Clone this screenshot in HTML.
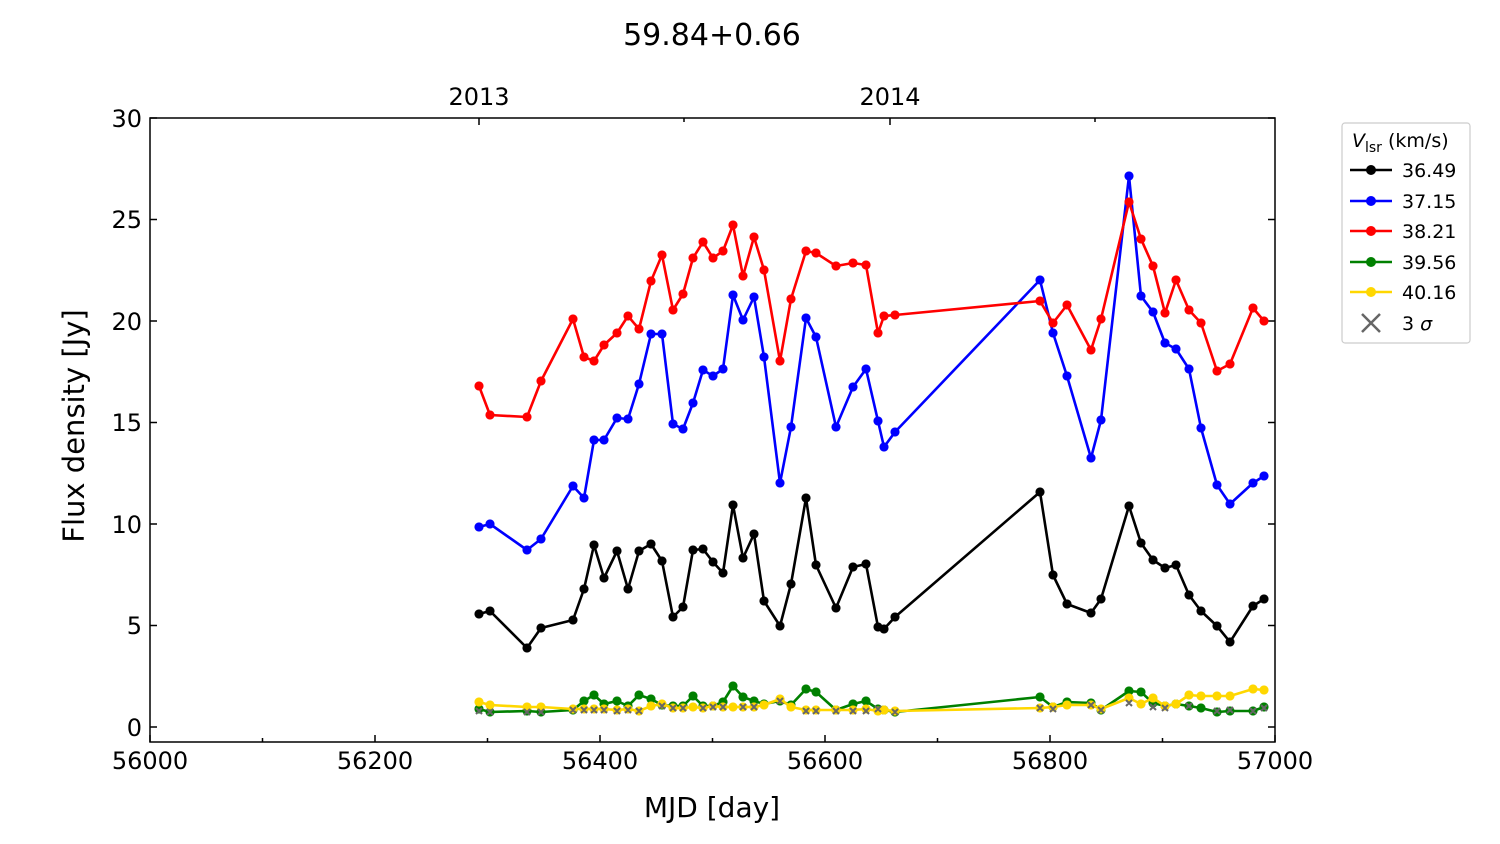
<!DOCTYPE html>
<html><head><meta charset="utf-8"><style>body{margin:0;background:#fff}svg{display:block}</style></head><body>
<svg width="1500" height="844" xmlns="http://www.w3.org/2000/svg" font-family="DejaVu Sans, Liberation Sans, sans-serif">
<rect width="1500" height="844" fill="#fff"/>
<text x="712" y="45" font-size="30" text-anchor="middle">59.84+0.66</text>
<g stroke="#000" stroke-width="1.5">
<path d="M150,727v-7M375,727v-7M600,727v-7M825,727v-7M1050,727v-7M1275,727v-7" transform="translate(0,15)"/>
<path d="M262.5,742v-4M487.5,742v-4M712.5,742v-4M937.5,742v-4M1162.5,742v-4"/>
<path d="M150,727h7M150,625.5h7M150,524h7M150,422.5h7M150,321h7M150,219.5h7M150,118h7"/>
<path d="M1275,727h-7M1275,625.5h-7M1275,524h-7M1275,422.5h-7M1275,321h-7M1275,219.5h-7M1275,118h-7"/>
<path d="M479,118v7M890,118v7M684,118v4M1095,118v4"/>
</g>
<g font-size="24" text-anchor="middle">
<text x="150" y="769">56000</text><text x="375" y="769">56200</text><text x="600" y="769">56400</text><text x="825" y="769">56600</text><text x="1050" y="769">56800</text><text x="1275" y="769">57000</text>
<text x="479" y="105">2013</text><text x="890" y="105">2014</text>
</g>
<g font-size="24" text-anchor="end">
<text x="142" y="736">0</text><text x="142" y="634">5</text><text x="142" y="533">10</text><text x="142" y="431">15</text><text x="142" y="330">20</text><text x="142" y="228">25</text><text x="142" y="127">30</text>
</g>
<text x="712" y="817" font-size="28" text-anchor="middle">MJD [day]</text>
<text transform="translate(84,426) rotate(-90)" font-size="29" text-anchor="middle">Flux density [Jy]</text>
<defs>
<marker id="mb" viewBox="0 0 10 10" refX="5" refY="5" markerWidth="3.5" markerHeight="3.5"><circle cx="5" cy="5" r="5" fill="#000"/></marker>
<marker id="mu" viewBox="0 0 10 10" refX="5" refY="5" markerWidth="3.5" markerHeight="3.5"><circle cx="5" cy="5" r="5" fill="#00f"/></marker>
<marker id="mr" viewBox="0 0 10 10" refX="5" refY="5" markerWidth="3.5" markerHeight="3.5"><circle cx="5" cy="5" r="5" fill="#f00"/></marker>
<marker id="mg" viewBox="0 0 10 10" refX="5" refY="5" markerWidth="3.5" markerHeight="3.5"><circle cx="5" cy="5" r="5" fill="#008000"/></marker>
<marker id="my" viewBox="0 0 10 10" refX="5" refY="5" markerWidth="3.5" markerHeight="3.5"><circle cx="5" cy="5" r="5" fill="#ffd700"/></marker>
</defs>
<g fill="none" stroke-width="2.6" stroke-linejoin="round">
<polyline stroke="#008000" marker-start="url(#mg)" marker-mid="url(#mg)" marker-end="url(#mg)" points="479,709 490,712 527,711 541,712 573,710 584,701 594,695 604,704 617,701 628,706 639,695 651,699 662,705 673,706 683,706 693,696 703,706 713,706 723,702 733,686 743,697 754,701 764,704 780,701 791,705 806,689 816,692 836,710 853,704 866,701 878,709 884,710 895,712 1040,697 1053,707 1067,702 1091,703 1101,710 1129,691 1141,692 1153,703 1165,706 1176,704 1189,706 1201,708 1217,712 1230,711 1253,711 1264,707"/>
<polyline stroke="#ffd700" marker-start="url(#my)" marker-mid="url(#my)" marker-end="url(#my)" points="479,702 490,705 527,707 541,707 573,709 584,709 594,709 604,709 617,710 628,709 639,711 651,706 662,704 673,708 683,708 693,707 703,708 713,706 723,707 733,707 743,707 754,707 764,705 780,699 791,707 806,710 816,710 836,710 853,710 866,709 878,711 884,710 895,711 1040,708 1053,707 1067,705 1091,705 1101,709 1129,698 1141,704 1153,698 1165,706 1176,704 1189,695 1201,696 1217,696 1230,696 1253,689 1264,690"/>
<polyline stroke="#000" marker-start="url(#mb)" marker-mid="url(#mb)" marker-end="url(#mb)" points="479,614 490,611 527,648 541,628 573,620 584,589 594,545 604,578 617,551 628,589 639,551 651,544 662,561 673,617 683,607 693,550 703,549 713,562 723,573 733,505 743,558 754,534 764,601 780,626 791,584 806,498 816,565 836,608 853,567 866,564 878,627 884,629 895,617 1040,492 1053,575 1067,604 1091,613 1101,599 1129,506 1141,543 1153,560 1165,568 1176,565 1189,595 1201,611 1217,626 1230,642 1253,606 1264,599"/>
<polyline stroke="#00f" marker-start="url(#mu)" marker-mid="url(#mu)" marker-end="url(#mu)" points="479,527 490,524 527,550 541,539 573,486 584,498 594,440 604,440 617,418 628,419 639,384 651,334 662,334 673,424 683,429 693,403 703,370 713,376 723,369 733,295 743,320 754,297 764,357 780,483 791,427 806,318 816,337 836,427 853,387 866,369 878,421 884,447 895,432 1040,280 1053,333 1067,376 1091,458 1101,420 1129,176 1141,296 1153,312 1165,343 1176,349 1189,369 1201,428 1217,485 1230,504 1253,483 1264,476"/>
<polyline stroke="#f00" marker-start="url(#mr)" marker-mid="url(#mr)" marker-end="url(#mr)" points="479,386 490,415 527,417 541,381 573,319 584,357 594,361 604,345 617,333 628,316 639,329 651,281 662,255 673,310 683,294 693,258 703,242 713,258 723,251 733,225 743,276 754,237 764,270 780,361 791,299 806,251 816,253 836,266 853,263 866,265 878,333 884,316 895,315 1040,301 1053,323 1067,305 1091,350 1101,319 1129,202 1141,239 1153,266 1165,313 1176,280 1189,310 1201,323 1217,371 1230,364 1253,308 1264,321"/>
</g>
<g stroke="#666" stroke-width="2">
<path d="M476,708l6,6M482,708l-6,6M487,709l6,6M493,709l-6,6M524,709l6,6M530,709l-6,6M538,709l6,6M544,709l-6,6M570,707l6,6M576,707l-6,6M581,707l6,6M587,707l-6,6M591,707l6,6M597,707l-6,6M601,707l6,6M607,707l-6,6M614,708l6,6M620,708l-6,6M625,707l6,6M631,707l-6,6M636,708l6,6M642,708l-6,6M659,703l6,6M665,703l-6,6M670,705l6,6M676,705l-6,6M680,705l6,6M686,705l-6,6M700,705l6,6M706,705l-6,6M710,704l6,6M716,704l-6,6M720,704l6,6M726,704l-6,6M740,704l6,6M746,704l-6,6M751,704l6,6M757,704l-6,6M777,698l6,6M783,698l-6,6M803,708l6,6M809,708l-6,6M813,708l6,6M819,708l-6,6M833,708l6,6M839,708l-6,6M850,708l6,6M856,708l-6,6M863,708l6,6M869,708l-6,6M875,706l6,6M881,706l-6,6M892,709l6,6M898,709l-6,6M1037,705l6,6M1043,705l-6,6M1050,706l6,6M1056,706l-6,6M1088,702l6,6M1094,702l-6,6M1098,707l6,6M1104,707l-6,6M1126,700l6,6M1132,700l-6,6M1150,704l6,6M1156,704l-6,6M1162,705l6,6M1168,705l-6,6M1186,703l6,6M1192,703l-6,6M1214,708l6,6M1220,708l-6,6M1227,707l6,6M1233,707l-6,6M1250,708l6,6M1256,708l-6,6M1261,705l6,6M1267,705l-6,6"/>
</g>
<rect x="150" y="118" width="1125" height="624" fill="none" stroke="#000" stroke-width="1.5"/>
<rect x="1342" y="123" width="128" height="220" rx="3" fill="#fff" stroke="#ccc" stroke-width="1.2"/>
<text x="1352" y="147" font-size="19"><tspan font-style="italic">V</tspan><tspan font-size="14" dy="5">lsr</tspan><tspan dy="-5"> (km/s)</tspan></text>
<g stroke-width="2.5">
<line x1="1350" y1="170" x2="1392" y2="170" stroke="#000"/><circle cx="1371" cy="170" r="5" fill="#000"/>
<line x1="1350" y1="201" x2="1392" y2="201" stroke="#00f"/><circle cx="1371" cy="201" r="5" fill="#00f"/>
<line x1="1350" y1="231" x2="1392" y2="231" stroke="#f00"/><circle cx="1371" cy="231" r="5" fill="#f00"/>
<line x1="1350" y1="262" x2="1392" y2="262" stroke="#008000"/><circle cx="1371" cy="262" r="5" fill="#008000"/>
<line x1="1350" y1="292" x2="1392" y2="292" stroke="#ffd700"/><circle cx="1371" cy="292" r="5" fill="#ffd700"/>
<path d="M1362,314l18,18M1380,314l-18,18" stroke="#666"/>
</g>
<g font-size="19">
<text x="1402" y="177">36.49</text><text x="1402" y="208">37.15</text><text x="1402" y="238">38.21</text><text x="1402" y="269">39.56</text><text x="1402" y="299">40.16</text><text x="1402" y="330">3 <tspan font-style="italic">σ</tspan></text>
</g>
</svg>
</body></html>
